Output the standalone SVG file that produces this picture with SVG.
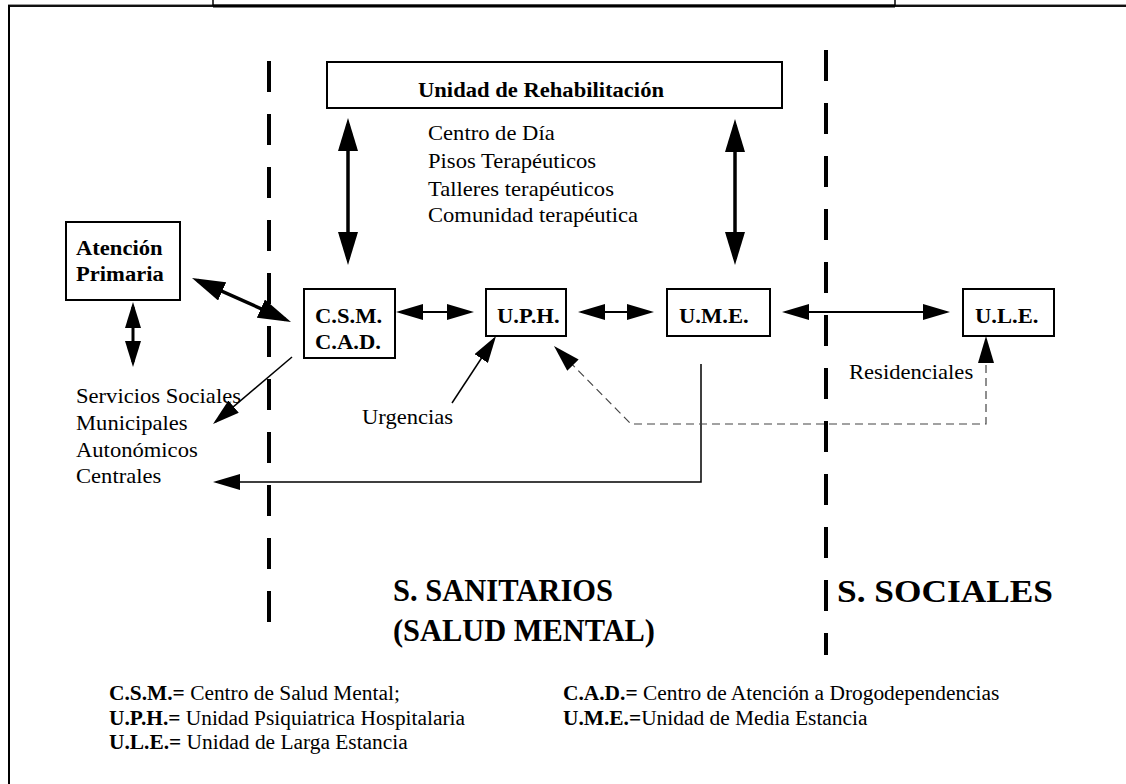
<svg xmlns="http://www.w3.org/2000/svg" width="1126" height="784" viewBox="0 0 1126 784">
<style>
.t{font-family:"Liberation Serif","Times New Roman",serif;font-size:20px;fill:#000}
.b{font-weight:bold}
.big{font-family:"Liberation Serif","Times New Roman",serif;font-size:31px;font-weight:bold;fill:#000}
.lg{font-family:"Liberation Serif","Times New Roman",serif;font-size:20px;fill:#000}
.box{fill:#fff;stroke:#000;stroke-width:2}
.div{stroke:#000;stroke-width:4;stroke-dasharray:31 22;fill:none}
.thick{stroke:#000;stroke-width:3.5;fill:none}
.mid{stroke:#000;stroke-width:3;fill:none}
.thin{stroke:#000;stroke-width:2;fill:none}
.hair{stroke:#000;stroke-width:1.5;fill:none}
.dash{stroke:#444;stroke-width:1.2;stroke-dasharray:8 5;fill:none}
</style>
<defs>
<marker id="hb" markerUnits="userSpaceOnUse" markerWidth="33" markerHeight="20" refX="27" refY="10" orient="auto-start-reverse"><path d="M0,0 L33,10 L0,20 Z" fill="#000"/></marker>
<marker id="hm" markerUnits="userSpaceOnUse" markerWidth="26" markerHeight="16" refX="21" refY="8" orient="auto-start-reverse"><path d="M0,0 L26,8 L0,16 Z" fill="#000"/></marker>
<marker id="ht" markerUnits="userSpaceOnUse" markerWidth="27" markerHeight="16" refX="24" refY="8" orient="auto-start-reverse"><path d="M0,0 L27,8 L0,16 Z" fill="#000"/></marker>
</defs>
<rect x="0" y="0" width="1126" height="784" fill="#fff"/>
<g id="frame">
<line x1="8" y1="4.5" x2="1126" y2="4.5" stroke="#999" stroke-width="1"/>
<line x1="8" y1="6" x2="1126" y2="6" stroke="#111" stroke-width="2"/>
<line x1="213" y1="6" x2="895" y2="6" stroke="#000" stroke-width="3"/>
<line x1="213" y1="0" x2="213" y2="6" stroke="#000" stroke-width="1.5"/>
<line x1="895" y1="0" x2="895" y2="6" stroke="#000" stroke-width="1.5"/>
<line x1="9" y1="5" x2="9" y2="784" stroke="#000" stroke-width="2"/>
</g>
<g id="dividers">
<line class="div" x1="269" y1="61" x2="269" y2="622"/>
<line class="div" x1="826" y1="50" x2="826" y2="655"/>
</g>
<g id="connectors">
<path class="thick" d="M348,124 V259" marker-start="url(#hb)" marker-end="url(#hb)"/>
<path class="thick" d="M735,125 V259" marker-start="url(#hb)" marker-end="url(#hb)"/>
<path class="thick" d="M197.5,280.4 L285.5,319.6" marker-start="url(#hb)" marker-end="url(#hb)"/>
<path class="mid" d="M133,307 V362" marker-start="url(#hm)" marker-end="url(#hm)"/>
<path class="thin" d="M399,312 H471" marker-start="url(#ht)" marker-end="url(#ht)"/>
<path class="thin" d="M581,312 H651" marker-start="url(#ht)" marker-end="url(#ht)"/>
<path class="thin" d="M785,312 H947" marker-start="url(#ht)" marker-end="url(#ht)"/>
<path class="hair" d="M292,357 L215.3,422.1" marker-end="url(#ht)"/>
<path class="hair" d="M452,403 L494.4,338.5" marker-end="url(#ht)"/>
<path class="hair" d="M701,364 V482 H216" marker-end="url(#ht)"/>
<path class="dash" d="M986,339 V424 H631 L556.1,348.1" marker-start="url(#ht)" marker-end="url(#ht)"/>
</g>
<g id="unidad-rehabilitacion">
<rect class="box" x="327" y="62" width="455" height="46"/>
<text class="t b" transform="translate(418,97) scale(1.13,1)">Unidad de Rehabilitación</text>
</g>
<g id="rehab-list">
<text class="t" transform="translate(428,140) scale(1.13,1)">Centro de Día</text>
<text class="t" transform="translate(428,168) scale(1.13,1)">Pisos Terapéuticos</text>
<text class="t" transform="translate(428,195.5) scale(1.13,1)">Talleres terapéuticos</text>
<text class="t" transform="translate(428,222) scale(1.13,1)">Comunidad terapéutica</text>
</g>
<g id="atencion-primaria">
<rect class="box" x="66" y="222" width="114" height="78"/>
<text class="t b" transform="translate(76,255) scale(1.13,1)">Atención</text>
<text class="t b" transform="translate(76,281) scale(1.13,1)">Primaria</text>
</g>
<g id="csm-cad">
<rect class="box" x="304" y="289" width="91" height="69"/>
<text class="t b" transform="translate(315,323) scale(1.13,1)">C.S.M.</text>
<text class="t b" transform="translate(315,349) scale(1.13,1)">C.A.D.</text>
</g>
<g id="uph">
<rect class="box" x="486" y="289" width="80" height="47"/>
<text class="t b" transform="translate(497,323) scale(1.13,1)">U.P.H.</text>
</g>
<g id="ume">
<rect class="box" x="667" y="289" width="103" height="47"/>
<text class="t b" transform="translate(679,323) scale(1.13,1)">U.M.E.</text>
</g>
<g id="ule">
<rect class="box" x="963" y="289" width="91" height="47"/>
<text class="t b" transform="translate(975,323) scale(1.13,1)">U.L.E.</text>
</g>
<g id="servicios-sociales">
<text class="t" transform="translate(76,403) scale(1.13,1)">Servicios Sociales</text>
<text class="t" transform="translate(76,430) scale(1.13,1)">Municipales</text>
<text class="t" transform="translate(76,457) scale(1.13,1)">Autonómicos</text>
<text class="t" transform="translate(76,483) scale(1.13,1)">Centrales</text>
</g>
<g id="urgencias">
<text class="t" transform="translate(362,424) scale(1.13,1)">Urgencias</text>
</g>
<g id="residenciales">
<text class="t" transform="translate(849,379) scale(1.13,1)">Residenciales</text>
</g>
<g id="sectors">
<text class="big" x="393" y="601" textLength="220" lengthAdjust="spacingAndGlyphs">S. SANITARIOS</text>
<text class="big" x="393" y="641" textLength="262" lengthAdjust="spacingAndGlyphs">(SALUD MENTAL)</text>
<text class="big" x="837" y="602" textLength="216" lengthAdjust="spacingAndGlyphs">S. SOCIALES</text>
</g>
<g id="legend">
<text class="lg" transform="translate(109,700) scale(1.07,1)"><tspan font-weight="bold">C.S.M.=</tspan> Centro de Salud Mental;</text>
<text class="lg" transform="translate(563,700) scale(1.07,1)"><tspan font-weight="bold">C.A.D.=</tspan> Centro de Atención a Drogodependencias</text>
<text class="lg" transform="translate(109,724.5) scale(1.07,1)"><tspan font-weight="bold">U.P.H.=</tspan> Unidad Psiquiatrica Hospitalaria</text>
<text class="lg" transform="translate(563,724.5) scale(1.07,1)"><tspan font-weight="bold">U.M.E.=</tspan>Unidad de Media Estancia</text>
<text class="lg" transform="translate(109,749) scale(1.07,1)"><tspan font-weight="bold">U.L.E.=</tspan> Unidad de Larga Estancia</text>
</g>
</svg>
